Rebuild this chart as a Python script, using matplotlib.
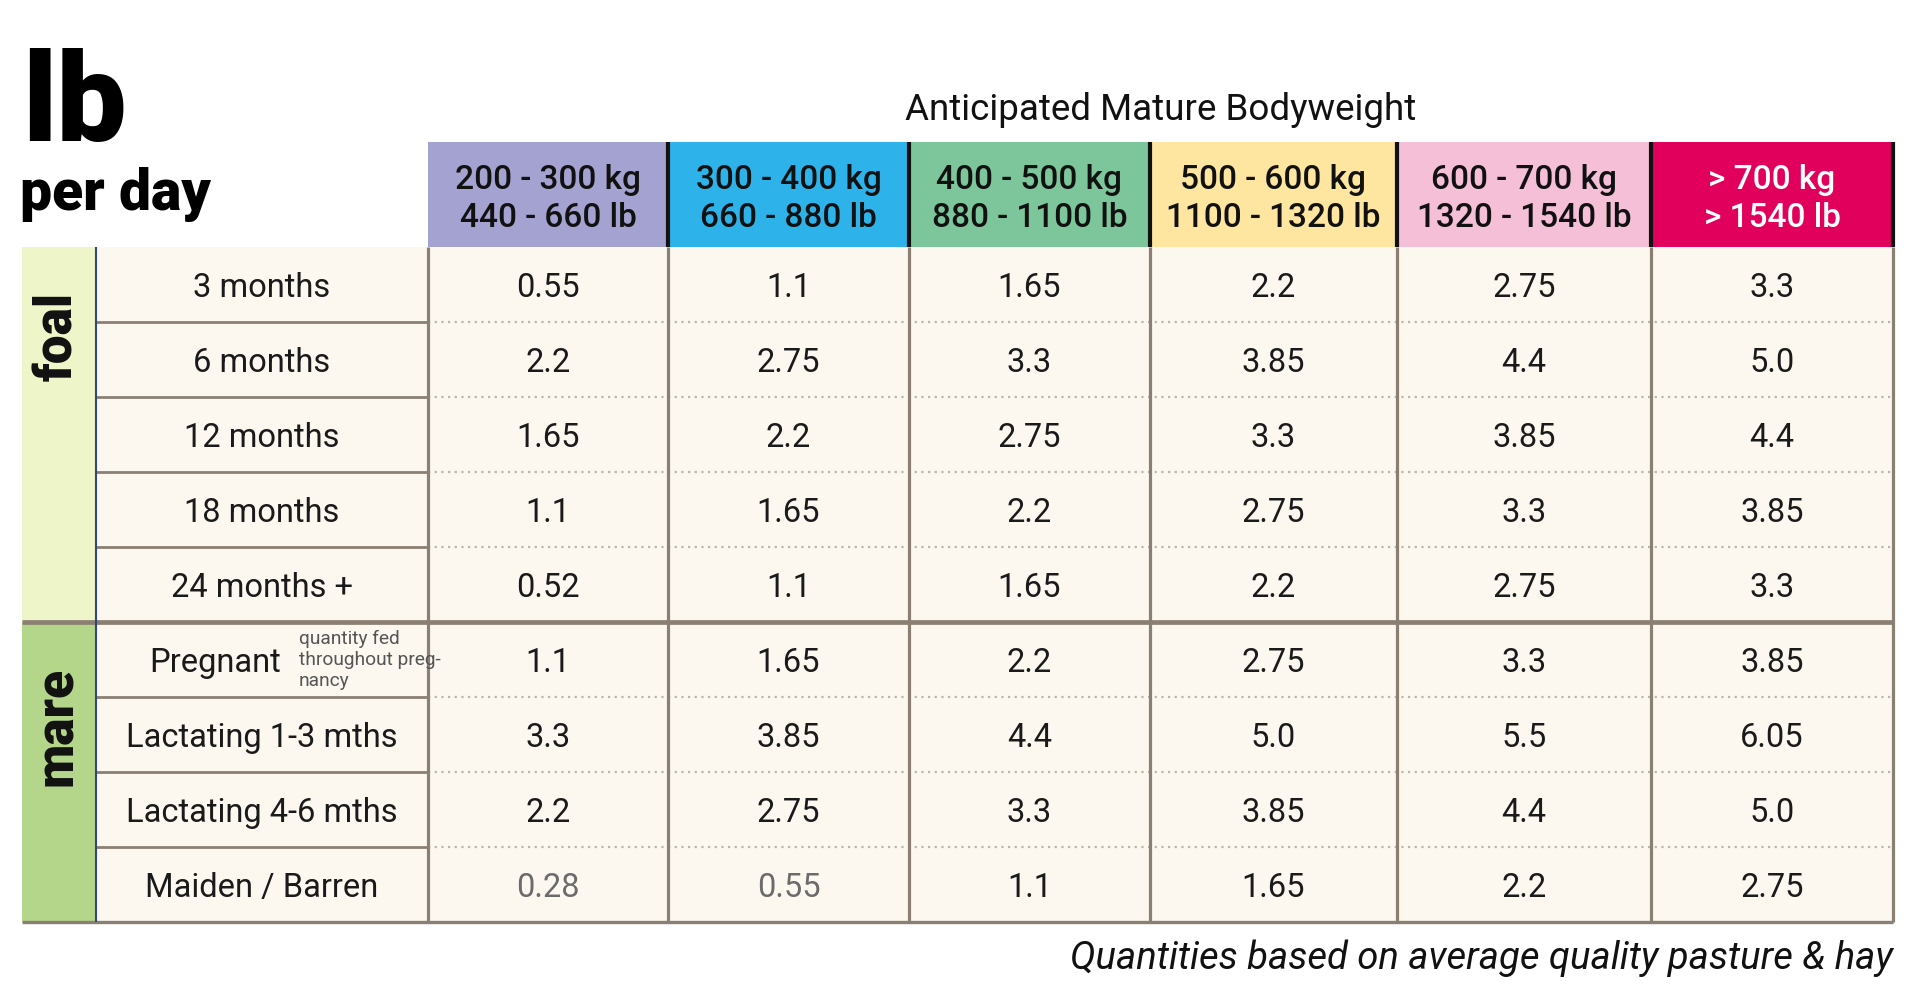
import matplotlib
matplotlib.use("Agg")
import matplotlib.pyplot as plt
from matplotlib.patches import Rectangle

# ---------------- data ----------------
groups = ["foal", "mare"]
group_sizes = [5, 4]
row_labels = ["3 months", "6 months", "12 months", "18 months", "24 months +",
              "Pregnant", "Lactating 1-3 mths", "Lactating 4-6 mths", "Maiden / Barren"]
col_kg = ["200 - 300 kg", "300 - 400 kg", "400 - 500 kg",
          "500 - 600 kg", "600 - 700 kg", "> 700 kg"]
col_lb = ["440 - 660 lb", "660 - 880 lb", "880 - 1100 lb",
          "1100 - 1320 lb", "1320 - 1540 lb", "> 1540 lb"]
row_3m = [0.55, 1.1, 1.65, 2.2, 2.75, 3.3]
row_6m = [2.2, 2.75, 3.3, 3.85, 4.4, 5.0]
row_12m = [1.65, 2.2, 2.75, 3.3, 3.85, 4.4]
row_18m = [1.1, 1.65, 2.2, 2.75, 3.3, 3.85]
row_24m = [0.52, 1.1, 1.65, 2.2, 2.75, 3.3]
row_pregnant = [1.1, 1.65, 2.2, 2.75, 3.3, 3.85]
row_lact13 = [3.3, 3.85, 4.4, 5.0, 5.5, 6.05]
row_lact46 = [2.2, 2.75, 3.3, 3.85, 4.4, 5.0]
row_maiden = [0.28, 0.55, 1.1, 1.65, 2.2, 2.75]
values = [row_3m, row_6m, row_12m, row_18m, row_24m,
          row_pregnant, row_lact13, row_lact46, row_maiden]
muted_cells = [(8, 0), (8, 1)]
title_big = "lb"
title_small = "per day"
header_title = "Anticipated Mature Bodyweight"
pregnant_note = "quantity fed\nthroughout preg-\nnancy"
footnote = "Quantities based on average quality pasture & hay"

# ---------------- style / layout ----------------
W, H = 1919, 1005
header_colors = ["#A4A2D1", "#2DB3EA", "#7DC59B", "#FEE6A1", "#F6BFD8", "#E1005B"]
header_text_colors = ["#111111"] * 5 + ["#FFFFFF"]
group_colors = ["#EEF5C9", "#B4D68B"]
cream = "#FCF8F0"
taupe = "#8A7F72"
dots = "#BDB5AA"
navy = "#34477A"

FONT = ["Roboto", "DejaVu Sans"]
plt.rcParams["font.family"] = FONT

gx0, gx1 = 22, 96
lab_x1 = 428
col_edges = [428, 668, 909, 1150, 1397, 1651, 1893]
head_y0, head_y1 = 142, 247
row_h = 75
n_rows = len(row_labels)
row_edges = [head_y1 + row_h * i for i in range(n_rows + 1)]
table_right = col_edges[-1]
text_dy = 3.5

fig = plt.figure(figsize=(W / 100, H / 100), dpi=100)
ax = fig.add_axes([0, 0, 1, 1])
ax.set_xlim(0, W)
ax.set_ylim(H, 0)
ax.axis("off")

# backgrounds
ax.add_patch(Rectangle((gx1, row_edges[0]), table_right - gx1,
                       row_edges[-1] - row_edges[0], facecolor=cream, edgecolor="none"))
start = 0
group_bounds = []
for g, n in enumerate(group_sizes):
    y0, y1 = row_edges[start], row_edges[start + n]
    ax.add_patch(Rectangle((gx0, y0), gx1 - gx0, y1 - y0,
                           facecolor=group_colors[g], edgecolor="none"))
    group_bounds.append((y0, y1))
    start += n

# header cells
for j in range(len(col_kg)):
    x0, x1 = col_edges[j], col_edges[j + 1]
    ax.add_patch(Rectangle((x0, head_y0), x1 - x0, head_y1 - head_y0,
                           facecolor=header_colors[j], edgecolor="none"))
for j in range(1, len(col_edges)):
    ax.plot([col_edges[j], col_edges[j]], [head_y0, head_y1], color="#111111",
            lw=3.0, solid_capstyle="butt")

# grid lines
group_break = row_edges[group_sizes[0]]
for i in range(1, n_rows):
    y = row_edges[i]
    if y == group_break:
        continue
    ax.plot([gx1, lab_x1], [y, y], color=taupe, lw=2.0, solid_capstyle="butt")
    ax.plot([lab_x1, table_right], [y, y], color=dots, lw=1.6,
            linestyle=(0, (1, 2)))
for x in col_edges:
    ax.plot([x, x], [row_edges[0], row_edges[-1]], color=taupe, lw=2.3,
            solid_capstyle="butt")
ax.plot([gx0, table_right], [group_break, group_break], color=taupe, lw=3.4,
        solid_capstyle="butt")
ax.plot([gx0, table_right], [row_edges[-1], row_edges[-1]], color=taupe, lw=2.4,
        solid_capstyle="butt")
ax.plot([gx1, gx1], [row_edges[0], row_edges[-1]], color=navy, lw=1.5,
        solid_capstyle="butt")

# group labels
for g, (y0, y1) in enumerate(group_bounds):
    ax.text(58, y0 + 45, groups[g], rotation=90, ha="center", va="top",
            fontsize=37, fontweight="black", color="#111111")

# row labels
lab_cx = (gx1 + lab_x1) / 2
for i, lab in enumerate(row_labels):
    cy = (row_edges[i] + row_edges[i + 1]) / 2 + text_dy
    if lab == "Pregnant":
        ax.text(215, cy, lab, ha="center", va="center", fontsize=23.5, color="#1a1a1a")
        ax.text(299, cy - 3, pregnant_note, ha="left", va="center", fontsize=13.8,
                color="#555555", linespacing=1.2)
    else:
        ax.text(lab_cx, cy, lab, ha="center", va="center", fontsize=23.5, color="#1a1a1a")

# values
for i, row in enumerate(values):
    cy = (row_edges[i] + row_edges[i + 1]) / 2 + text_dy
    for j, v in enumerate(row):
        cx = (col_edges[j] + col_edges[j + 1]) / 2
        c = "#6b6b6b" if (i, j) in muted_cells else "#1a1a1a"
        ax.text(cx, cy, str(v), ha="center", va="center", fontsize=23.5, color=c)

# header labels
for j in range(len(col_kg)):
    cx = (col_edges[j] + col_edges[j + 1]) / 2
    ax.text(cx, 180, col_kg[j], ha="center", va="center", fontsize=24,
            fontweight="medium", color=header_text_colors[j])
    ax.text(cx, 218, col_lb[j], ha="center", va="center", fontsize=24,
            fontweight="medium", color=header_text_colors[j])

ax.text((col_edges[0] + col_edges[-1]) / 2, 110, header_title, ha="center",
        va="center", fontsize=26.5, color="#111111")

# titles
ax.text(22, 141, title_big, ha="left", va="baseline", fontsize=90,
        fontweight="black", color="#000000")
ax.text(20, 210, title_small, ha="left", va="baseline", fontsize=41,
        fontweight="black", color="#000000")

# footnote
ax.text(table_right, 969, footnote, ha="right", va="baseline", fontsize=27.5,
        fontstyle="italic", color="#111111")

fig.savefig("out.png", dpi=100, facecolor="white")
